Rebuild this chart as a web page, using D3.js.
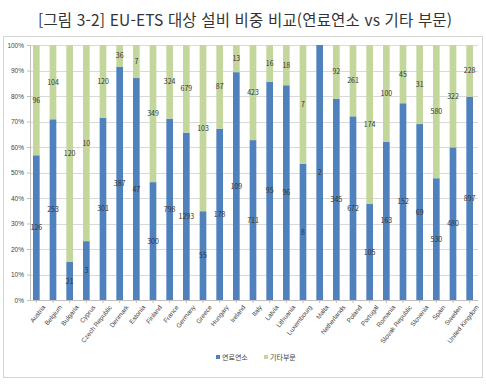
<!DOCTYPE html>
<html lang="ko">
<head>
<meta charset="UTF-8">
<title>EU-ETS 대상 설비 비중 비교</title>
<script src="https://d3js.org/d3.v7.min.js"></script>
<style>
  body { margin: 0; background: #fff; font-family: "Noto Sans CJK KR", "Noto Sans", sans-serif; }
  .tick text { font-size: 6.5px; fill: #444; }
  .lbl { font-size: 7px; fill: #333; text-anchor: middle; }
</style>
</head>
<body>
<div id="chart"></div>
<script>
var countries = ["Austria", "Belgium", "Bulgaria", "Cyprus", "Czech Republic", "Denmark", "Estonia",
  "Finland", "France", "Germany", "Greece", "Hungary", "Ireland", "Italy", "Latvia", "Lithuania",
  "Luxembourg", "Malta", "Netherlands", "Poland", "Portugal", "Romania", "Slovak Republic",
  "Slovenia", "Spain", "Sweden", "United Kingdom"];
// 연료연소 설비 수
var fuel = [126, 253, 21, 3, 301, 387, 47, 300, 798, 1293, 55, 178, 109, 711, 95, 96, 8, 2, 345, 672, 105, 163, 152, 69, 530, 480, 897];
// 기타부문 설비 수
var other = [96, 104, 120, 10, 120, 36, 7, 349, 324, 679, 103, 87, 13, 423, 16, 18, 7, 0, 92, 261, 174, 100, 45, 31, 580, 322, 228];
var seriesNames = ["연료연소", "기타부문"];
var colors = ["#4f81bd", "#c3d69b"];
var yTicks = [0, 0.1, 0.2, 0.3, 0.4, 0.5, 0.6, 0.7, 0.8, 0.9, 1];

var width = 486, height = 388;
var margin = {left: 28, right: 8, top: 45, bottom: 88};

var svg = d3.select("#chart").append("svg")
  .attr("width", width).attr("height", height);

svg.append("text")
  .attr("x", 245).attr("y", 26)
  .attr("text-anchor", "middle")
  .attr("textLength", 414)
  .style("font-size", "15.5px").style("fill", "#333")
  .text("[그림 3-2] EU-ETS 대상 설비 비중 비교(연료연소 vs 기타 부문)");

svg.append("rect")
  .attr("x", 3.5).attr("y", 36.5).attr("width", 479).attr("height", 341)
  .attr("fill", "#fff").attr("stroke", "#d4d4d4");

var table = countries.map(function(c, i) {
  var t = fuel[i] + other[i];
  return {country: c, fuel: fuel[i], other: other[i], pf: fuel[i] / t, po: other[i] / t};
});

var x = d3.scaleBand().domain(countries)
  .range([margin.left, width - margin.right]).paddingInner(0.6).paddingOuter(0.3);
var y = d3.scaleLinear().domain([0, 1]).range([300, margin.top]);

svg.append("g").selectAll("line").data(yTicks).join("line")
  .attr("x1", margin.left + 2).attr("x2", width - margin.right)
  .attr("y1", function(d) { return Math.round(y(d)) + 0.5; })
  .attr("y2", function(d) { return Math.round(y(d)) + 0.5; })
  .attr("stroke", "#d9d9d9");

var yAxis = svg.append("g")
  .attr("transform", "translate(" + (margin.left + 2) + ",0)")
  .call(d3.axisLeft(y).tickValues(yTicks).tickFormat(d3.format(".0%")).tickSize(3));
yAxis.select(".domain").attr("stroke", "#bfbfbf");
yAxis.selectAll(".tick line").attr("stroke", "#bfbfbf");

var stack = d3.stack().keys(["pf", "po"]);
var layers = stack(table);

svg.append("g").selectAll("g").data(layers).join("g")
  .attr("fill", function(d, i) { return colors[i]; })
  .selectAll("rect").data(function(d) { return d; }).join("rect")
  .attr("x", function(d) { return x(d.data.country); })
  .attr("width", x.bandwidth())
  .attr("y", function(d) { return y(d[1]); })
  .attr("height", function(d) { return y(d[0]) - y(d[1]); });

// value labels in the middle of each segment
var keys = ["fuel", "other"];
layers.forEach(function(layer, li) {
  svg.append("g").selectAll("text")
    .data(layer.filter(function(d) { return d.data[keys[li]] > 0; }))
    .join("text")
    .attr("class", "lbl")
    .attr("x", function(d) { return x(d.data.country) + x.bandwidth() / 2; })
    .attr("y", function(d) { return (y(d[0]) + y(d[1])) / 2 + 2.5; })
    .text(function(d) { return d.data[keys[li]]; });
});

var xAxis = svg.append("g")
  .attr("transform", "translate(0,300)")
  .call(d3.axisBottom(x).tickSize(3).tickSizeOuter(0));
xAxis.select(".domain").attr("stroke", "#bfbfbf").attr("d", "M" + (margin.left + 2) + ",0.5H" + (width - margin.right));
xAxis.selectAll(".tick line").attr("stroke", "#bfbfbf");
xAxis.selectAll(".tick text")
  .attr("text-anchor", "end")
  .attr("dx", "0.3em").attr("dy", "0.9em")
  .attr("transform", "rotate(-52) translate(-2,0)");

var legend = svg.append("g").attr("transform", "translate(216,359)");
var lx = [0, 48];
seriesNames.forEach(function(name, i) {
  legend.append("rect").attr("x", lx[i]).attr("y", -4).attr("width", 4).attr("height", 4).attr("fill", colors[i]);
  legend.append("text").attr("x", lx[i] + 6).attr("y", 1)
    .style("font-size", "7px").style("fill", "#444").text(name);
});
</script>
</body>
</html>
